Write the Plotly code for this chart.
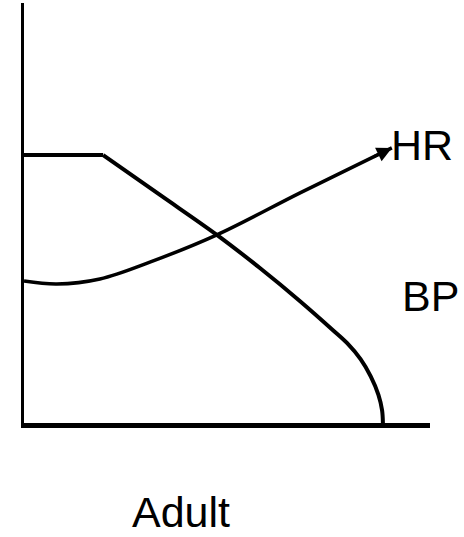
import plotly.graph_objects as go

# Blood pressure: plateau, then falls away steeply toward the end
bp_x = [0.0, 1.95, 3.35, 4.75, 5.81, 6.80, 7.61, 7.96, 8.29, 8.54, 8.73, 8.82, 8.84]
bp_y = [63.8, 63.8, 54.3, 44.8, 36.9, 29.0, 22.1, 19.0, 15.2, 11.1, 6.7, 3.0, 0.0]

# Heart rate: shallow dip, then a steady rise
hr_x = [0.0, 0.81, 1.87, 3.10, 4.75, 6.80, 9.06]
hr_y = [33.8, 33.1, 34.3, 38.3, 44.8, 54.8, 65.5]

# label positions in paper fractions of the plotting area
labels = {"HR": (0.980, 0.662), "BP": (1.002, 0.302)}
caption = ("Adult", 0.387, -0.212)

FONT = "Liberation Sans"

fig = go.Figure()
# plateau segment
fig.add_trace(go.Scatter(x=bp_x[:2], y=bp_y[:2], mode="lines",
                         line=dict(color="black", width=4),
                         cliponaxis=False, hoverinfo="skip"))
# smooth decline after the plateau
fig.add_trace(go.Scatter(x=bp_x[1:], y=bp_y[1:], mode="lines",
                         line=dict(color="black", width=4, shape="spline", smoothing=1.0),
                         cliponaxis=False, hoverinfo="skip"))
fig.add_trace(go.Scatter(x=hr_x, y=hr_y, mode="lines",
                         line=dict(color="black", width=3.5, shape="spline", smoothing=1),
                         cliponaxis=False, hoverinfo="skip"))

# arrow tip on the heart-rate curve
fig.add_annotation(x=hr_x[-1], y=hr_y[-1], ax=8.57, ay=63.2,
                   xref="x", yref="y", axref="x", ayref="y",
                   text="", showarrow=True, arrowhead=2, arrowsize=1,
                   arrowwidth=3, arrowcolor="black", standoff=0)

for name, (lx, ly) in labels.items():
    fig.add_annotation(x=lx, y=ly, xref="paper", yref="paper", text=name,
                       showarrow=False, xanchor="center", yanchor="middle",
                       font=dict(family=FONT, size=43, color="black"))

fig.add_annotation(x=caption[1], y=caption[2], xref="paper", yref="paper",
                   text=caption[0], showarrow=False,
                   xanchor="center", yanchor="middle",
                   font=dict(family=FONT, size=43, color="black"))

fig.update_layout(
    width=464, height=537,
    margin=dict(l=24, r=34, t=3, b=114),
    paper_bgcolor="white", plot_bgcolor="white",
    showlegend=False,
    font=dict(family=FONT),
    xaxis=dict(range=[0, 10], showline=True, linecolor="black", linewidth=4.5,
               showgrid=False, zeroline=False, showticklabels=False, ticks=""),
    yaxis=dict(range=[0, 100], showline=True, linecolor="black", linewidth=3,
               showgrid=False, zeroline=False, showticklabels=False, ticks=""),
)

fig.write_html("out.html")
